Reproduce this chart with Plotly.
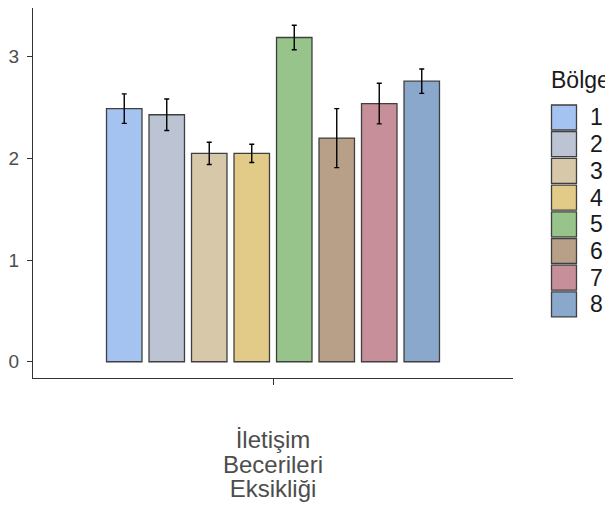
import plotly.graph_objects as go

category_lines = ["İletişim", "Becerileri", "Eksikliği"]
regions = ["1", "2", "3", "4", "5", "6", "7", "8"]
means = [2.49, 2.43, 2.05, 2.05, 3.19, 2.20, 2.54, 2.76]
errors = [0.145, 0.155, 0.11, 0.09, 0.12, 0.29, 0.20, 0.12]
colors = ["#A4C3F0", "#BCC4D3", "#D8C8AA", "#E2CB88",
          "#97C48A", "#B8A088", "#C78F99", "#8AA7CC"]
y_ticks = [0, 1, 2, 3]
legend_title = "Bölge"

category = " ".join(category_lines)
category_label = "<br>".join(
    f'<span style="font-size:24px">{t}</span>' for t in category_lines)

OFF = 8  # page body margin
W, H = 613 - OFF, 506 - OFF
ML, MR, MT, MB = 33 - OFF, W - (513 - OFF), 0, H - (378 - OFF)
PW, PH = W - ML - MR, H - MT - MB

def px_x(p):
    return (p - OFF - ML) / PW

def px_y(p):
    return (H - MB - (p - OFF)) / PH

FONT = "Liberation Sans, Arial, sans-serif"

fig = go.Figure()
for r, m, e, c in zip(regions, means, errors, colors):
    fig.add_trace(go.Bar(
        x=[category], y=[m], name=r,
        marker=dict(color=c, line=dict(color="#3f3f3f", width=1.3)),
        error_y=dict(type="data", array=[e], color="black", thickness=1.4, width=2.5),
        showlegend=False,
    ))

# manual legend (ggplot-style large keys)
shapes = []
annotations = [dict(text=legend_title, xref="paper", yref="paper",
                    x=px_x(549), y=px_y(80), xanchor="left", yanchor="middle",
                    showarrow=False, font=dict(family=FONT, size=23, color="#1a1a1a"))]
for i, (r, c) in enumerate(zip(regions, colors)):
    top = 105 + i * 26.7
    shapes.append(dict(type="rect", xref="paper", yref="paper",
                       x0=px_x(551.5), x1=px_x(576.5), y0=px_y(top), y1=px_y(top + 25),
                       fillcolor=c, line=dict(color="#3f3f3f", width=1.3)))
    annotations.append(dict(text=r, xref="paper", yref="paper",
                            x=px_x(588), y=px_y(top + 12.5), xanchor="left", yanchor="middle",
                            showarrow=False, font=dict(family=FONT, size=23, color="#1a1a1a")))

fig.update_layout(
    width=W, height=H,
    margin=dict(l=ML, r=MR, t=MT, b=MB, pad=0),
    paper_bgcolor="white", plot_bgcolor="white",
    barmode="group", bargap=0.15, bargroupgap=0.165,
    showlegend=False,
    font=dict(family=FONT, color="#4d4d4d"),
    shapes=shapes, annotations=annotations,
    xaxis=dict(type="category", range=[-0.6, 0.6], showline=True, linecolor="#333333",
               linewidth=1.2, ticks="outside", ticklen=6, tickcolor="#333333", tickwidth=1.2,
               showgrid=False, zeroline=False, ticklabelstandoff=40,
               tickmode="array", tickvals=[category], ticktext=[category_label],
               tickfont=dict(family=FONT, size=19, color="#4d4d4d")),
    yaxis=dict(range=[-0.16, 3.48], tickvals=y_ticks, showline=True, linecolor="#333333",
               linewidth=1.2, ticks="outside", ticklen=5, tickcolor="#333333", tickwidth=1.2,
               showgrid=False, zeroline=False, ticklabelstandoff=4,
               tickfont=dict(family=FONT, size=19, color="#4d4d4d")),
)

fig.write_html("out.html")
